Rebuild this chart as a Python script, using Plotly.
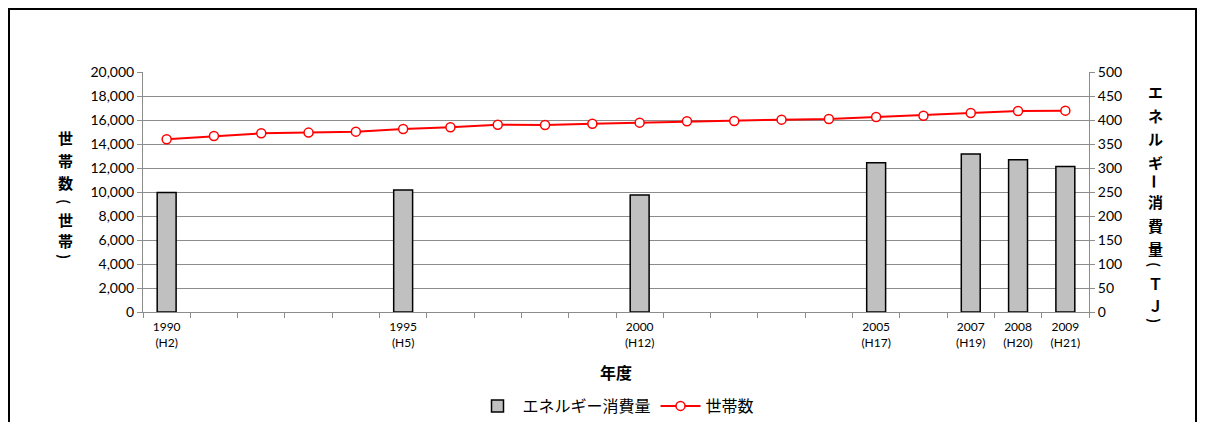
import plotly.graph_objects as go

YEARS = [str(y) for y in range(1990, 2010)]
LABELS = {
    '1990': '1990<br>(H2)',
    '1995': '1995<br>(H5)',
    '2000': '2000<br>(H12)',
    '2005': '2005<br>(H17)',
    '2007': '2007<br>(H19)',
    '2008': '2008<br>(H20)',
    '2009': '2009<br>(H21)',
}

# households (left axis)
HOUSEHOLDS = [14390, 14670, 14890, 14950, 15030, 15250, 15390, 15610, 15580, 15690,
              15780, 15890, 15920, 16030, 16080, 16250, 16360, 16580, 16750, 16780]

# energy consumption TJ (right axis)
ENERGY_YEARS = ['1990', '1995', '2000', '2005', '2007', '2008', '2009']
ENERGY = [249, 254, 244, 311, 329, 317, 303]

LEFT_TITLE = '世帯数(世帯)'
RIGHT_TITLE = 'エネルギー消費量(ＴＪ)'

FONT = 'Lato, Noto Sans CJK JP'
JP = 'Noto Sans CJK JP'
GRID = '#8c8c8c'

# the page body adds 8px around the figure; keep the figure small enough that
# no scrollbars appear and work in screen pixels
OFF = 8
W, H = 1190, 414
X0, X1, Y0, Y1 = 143, 1089, 72, 312          # plot area on screen
L, T = X0 - OFF, Y0 - OFF
R, B = W - (X1 - OFF), H - (Y1 - OFF)
PW, PH = X1 - X0, Y1 - Y0


def px_x(x):
    return (x - X0) / PW


def px_y(y):
    return (Y1 - y) / PH


fig = go.Figure()

fig.add_trace(go.Bar(
    x=ENERGY_YEARS, y=ENERGY, name='エネルギー消費量', yaxis='y2',
    width=0.4,
    marker=dict(color='#c0c0c0', line=dict(color='black', width=1.5)),
))

fig.add_trace(go.Scatter(
    x=YEARS, y=HOUSEHOLDS, name='世帯数', mode='lines+markers',
    line=dict(color='#ff0000', width=2),
    marker=dict(symbol='circle', size=9, color='white',
                line=dict(color='#ff0000', width=1.5)),
))

fig.update_layout(
    width=W, height=H,
    margin=dict(l=L, r=R, t=T, b=B, autoexpand=False),
    paper_bgcolor='white', plot_bgcolor='white',
    font=dict(family=FONT, size=13, color='black'),
    showlegend=True,
    legend=dict(orientation='h', x=0.5, xanchor='center', y=px_y(389), yanchor='top',
                font=dict(family=JP, size=16), itemwidth=40,
                traceorder='normal'),
    xaxis=dict(
        type='category', categoryorder='array', categoryarray=YEARS,
        range=[-0.5, len(YEARS) - 0.5],
        tickmode='array', tickvals=YEARS,
        ticktext=[LABELS.get(y, '') for y in YEARS],
        tickson='boundaries', ticks='outside', ticklen=5, tickcolor=GRID,
        ticklabelstandoff=4,
        showline=True, linecolor=GRID, showgrid=False,
        tickfont=dict(size=12),
        title=dict(text='<b>年度</b>', font=dict(family=JP, size=16), standoff=18),
    ),
    yaxis=dict(
        range=[0, 20000], dtick=2000, tickformat=',d',
        showgrid=True, gridcolor=GRID, gridwidth=1,
        showline=True, linecolor=GRID, ticks='outside', ticklen=5, tickcolor=GRID,
        zeroline=False, tickfont=dict(size=14),
    ),
    yaxis2=dict(
        range=[0, 500], dtick=50, overlaying='y', side='right',
        showgrid=False, showline=True, linecolor=GRID,
        ticks='outside', ticklen=5, tickcolor=GRID, zeroline=False,
        tickfont=dict(size=14),
    ),
)

# stacked vertical axis titles, one character each (screen y of each glyph)
LEFT_Y = [137, 160, 182, 201, 219, 240, 256]
RIGHT_Y = [91, 115, 138, 162, 181, 201, 225, 248, 264, 283, 305, 320]
ROTATE = set('()ー')


def vertical_title(text, xs, ys):
    for ch, y in zip(text, ys):
        fig.add_annotation(text='<b>' + ch + '</b>', xref='paper', yref='paper',
                           x=px_x(xs), y=px_y(y), showarrow=False,
                           xanchor='center', yanchor='middle', borderpad=0,
                           textangle=90 if ch in ROTATE else 0,
                           font=dict(family=JP, size=14 if ch in '()' else 15))


vertical_title(LEFT_TITLE, 65, LEFT_Y)
vertical_title(RIGHT_TITLE, 1155, RIGHT_Y)

# chart border (as close to the edge as the page allows)
fig.add_shape(type='rect', xref='paper', yref='paper',
              x0=px_x(OFF + 1), x1=px_x(OFF + W - 2), y0=px_y(460), y1=px_y(OFF + 1),
              line=dict(color='black', width=2))

fig.write_html('out.html')
